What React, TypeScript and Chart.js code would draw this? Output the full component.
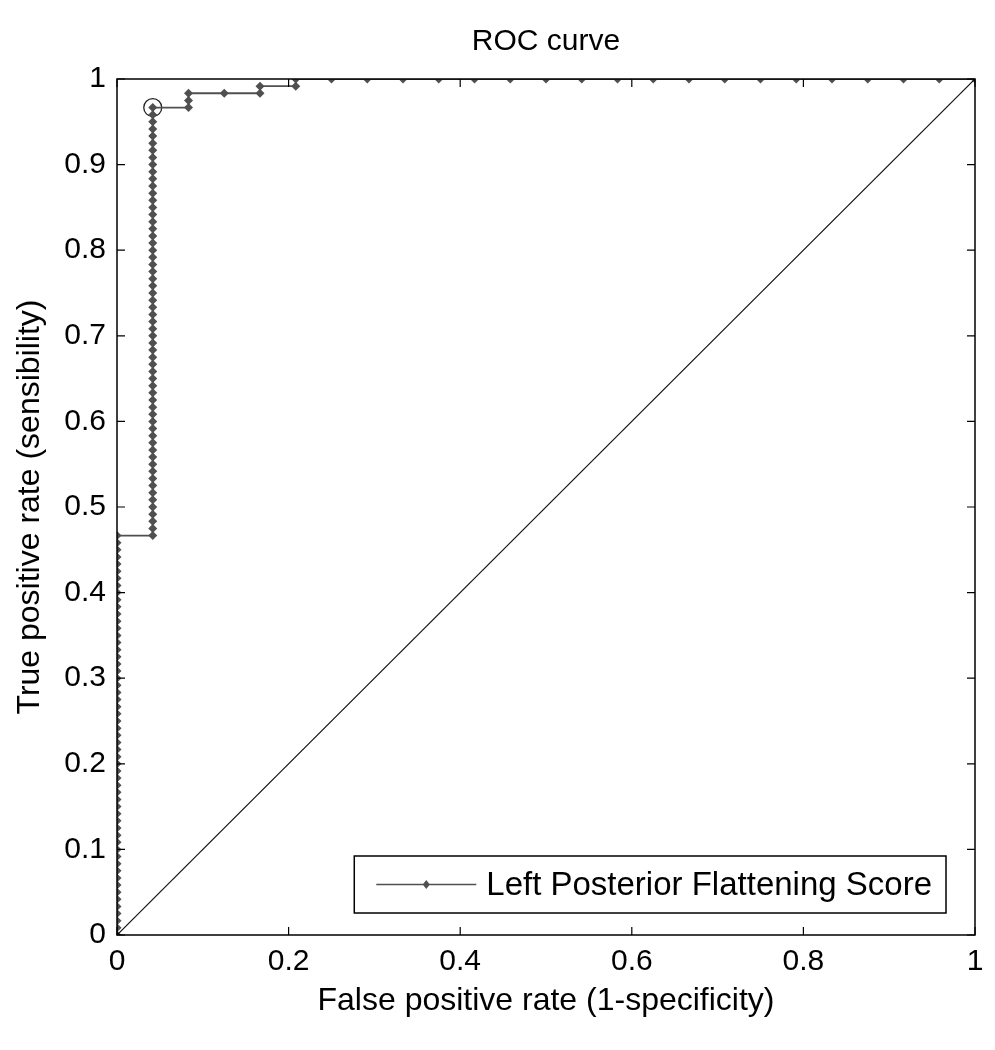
import React, { useEffect, useRef } from 'react';
import { Chart, registerables } from 'chart.js';

Chart.register(...registerables);

const titleText = 'ROC curve';
const xAxisTitle = 'False positive rate (1-specificity)';
const yAxisTitle = 'True positive rate (sensibility)';
const legendLabel = 'Left Posterior Flattening Score';

// ROC operating points, expressed as counts of false / true positives
const totalPositives = 120;
const totalNegatives = 24;

const falsePositiveCounts = [
  0, 0, 0, 0, 0, 0, 0, 0, 0, 0, 0, 0, 0, 0, 0, 0, 0, 0, 0, 0,
  0, 0, 0, 0, 0, 0, 0, 0, 0, 0, 0, 0, 0, 0, 0, 0, 0, 0, 0, 0,
  0, 0, 0, 0, 0, 0, 0, 0, 0, 0, 0, 0, 0, 0, 0, 0, 0,
  1, 1, 1, 1, 1, 1, 1, 1, 1, 1, 1, 1, 1, 1, 1, 1, 1, 1, 1, 1,
  1, 1, 1, 1, 1, 1, 1, 1, 1, 1, 1, 1, 1, 1, 1, 1, 1, 1, 1, 1,
  1, 1, 1, 1, 1, 1, 1, 1, 1, 1, 1, 1, 1, 1, 1, 1, 1, 1, 1, 1, 1,
  2, 2, 2,
  3,
  4, 4,
  5, 5,
  6, 7, 8, 9, 10, 11, 12, 13, 14, 15, 16, 17, 18, 19, 20, 21, 22, 23, 24,
];

const truePositiveCounts = [
  0, 1, 2, 3, 4, 5, 6, 7, 8, 9, 10, 11, 12, 13, 14, 15, 16, 17, 18, 19,
  20, 21, 22, 23, 24, 25, 26, 27, 28, 29, 30, 31, 32, 33, 34, 35, 36, 37, 38, 39,
  40, 41, 42, 43, 44, 45, 46, 47, 48, 49, 50, 51, 52, 53, 54, 55, 56,
  56, 57, 58, 59, 60, 61, 62, 63, 64, 65, 66, 67, 68, 69, 70, 71, 72, 73, 74, 75,
  76, 77, 78, 79, 80, 81, 82, 83, 84, 85, 86, 87, 88, 89, 90, 91, 92, 93, 94, 95,
  96, 97, 98, 99, 100, 101, 102, 103, 104, 105, 106, 107, 108, 109, 110, 111, 112, 113, 114, 115, 116,
  116, 117, 118,
  118,
  118, 119,
  119, 120,
  120, 120, 120, 120, 120, 120, 120, 120, 120, 120, 120, 120, 120, 120, 120, 120, 120, 120, 120,
];

// optimal operating point (circled)
const optimalFalsePositives = [1];
const optimalTruePositives = [116];

// chance diagonal
const chanceX = [0, 1];
const chanceY = [0, 1];

const xTickValues = [0, 0.2, 0.4, 0.6, 0.8, 1];
const yTickValues = [0, 0.1, 0.2, 0.3, 0.4, 0.5, 0.6, 0.7, 0.8, 0.9, 1];

const FONT = '"Liberation Sans", Arial, Helvetica, sans-serif';
const CURVE_COLOR = '#505050';
const TICK_SIZE = 30;
const LABEL_SIZE = 32;
const LEGEND_SIZE = 33;
const TITLE_SIZE = 30;

const boxPlugin = {
  id: 'matlabBox',
  afterDatasetsDraw(chart: any) {
    const { ctx, chartArea } = chart;
    const { left, right, top, bottom } = chartArea;
    const xs = chart.scales.x;
    const ys = chart.scales.y;
    const tick = 8;
    ctx.save();
    ctx.strokeStyle = '#000';
    ctx.lineWidth = 1.5;
    ctx.strokeRect(left, top, right - left, bottom - top);
    ctx.lineWidth = 1.2;
    ctx.beginPath();
    xTickValues.forEach((v) => {
      const px = xs.getPixelForValue(v);
      ctx.moveTo(px, bottom);
      ctx.lineTo(px, bottom - tick);
      ctx.moveTo(px, top);
      ctx.lineTo(px, top + tick);
    });
    yTickValues.forEach((v) => {
      const py = ys.getPixelForValue(v);
      ctx.moveTo(left, py);
      ctx.lineTo(left + tick, py);
      ctx.moveTo(right, py);
      ctx.lineTo(right - tick, py);
    });
    ctx.stroke();
    ctx.restore();
  },
  afterDraw(chart: any) {
    const { ctx, chartArea } = chart;
    ctx.save();
    ctx.font = `${LEGEND_SIZE}px ${FONT}`;
    const textW = ctx.measureText(legendLabel).width;
    const padL = 22;
    const sampleLen = 100;
    const gap = 10;
    const padR = 14;
    const boxH = 57;
    const boxRight = chartArea.right - 29;
    const boxBottom = chartArea.bottom - 22;
    const boxW = padL + sampleLen + gap + textW + padR;
    const boxLeft = boxRight - boxW;
    const boxTop = boxBottom - boxH;
    ctx.fillStyle = '#fff';
    ctx.fillRect(boxLeft, boxTop, boxW, boxH);
    ctx.strokeStyle = '#000';
    ctx.lineWidth = 1.5;
    ctx.strokeRect(boxLeft, boxTop, boxW, boxH);
    const cy = boxTop + boxH / 2;
    ctx.strokeStyle = CURVE_COLOR;
    ctx.lineWidth = 1.5;
    ctx.beginPath();
    ctx.moveTo(boxLeft + padL, cy);
    ctx.lineTo(boxLeft + padL + sampleLen, cy);
    ctx.stroke();
    const mx = boxLeft + padL + sampleLen / 2;
    ctx.fillStyle = CURVE_COLOR;
    ctx.beginPath();
    ctx.moveTo(mx, cy - 4.5);
    ctx.lineTo(mx + 3.5, cy);
    ctx.lineTo(mx, cy + 4.5);
    ctx.lineTo(mx - 3.5, cy);
    ctx.closePath();
    ctx.fill();
    ctx.fillStyle = '#000';
    ctx.textBaseline = 'middle';
    ctx.textAlign = 'left';
    ctx.fillText(legendLabel, boxLeft + padL + sampleLen + gap, cy + 1);
    ctx.restore();
  },
};

export default function App() {
  const canvasRef = useRef<HTMLCanvasElement | null>(null);

  useEffect(() => {
    document.body.style.overflow = 'hidden';
    const canvas = canvasRef.current;
    if (!canvas) return;

    const curve = falsePositiveCounts.map((fp, i) => ({
      x: fp / totalNegatives,
      y: truePositiveCounts[i] / totalPositives,
    }));
    const optimal = optimalFalsePositives.map((fp, i) => ({
      x: fp / totalNegatives,
      y: optimalTruePositives[i] / totalPositives,
    }));
    const chance = chanceX.map((x, i) => ({ x, y: chanceY[i] }));

    const chart = new Chart(canvas, {
      type: 'scatter',
      data: {
        datasets: [
          {
            label: 'chance',
            data: chance,
            showLine: true,
            borderColor: '#111',
            borderWidth: 1.2,
            pointRadius: 0,
          },
          {
            label: legendLabel,
            data: curve,
            showLine: true,
            borderColor: CURVE_COLOR,
            borderWidth: 1.8,
            pointStyle: 'rectRot',
            pointRadius: 4.5,
            pointBackgroundColor: CURVE_COLOR,
            pointBorderColor: CURVE_COLOR,
            pointBorderWidth: 0,
          },
          {
            label: 'optimal',
            data: optimal,
            showLine: false,
            pointStyle: 'circle',
            pointRadius: 9,
            pointBackgroundColor: 'rgba(0,0,0,0)',
            pointBorderColor: '#222',
            pointBorderWidth: 1.3,
          },
        ],
      },
      options: {
        responsive: false,
        animation: false,
        layout: { padding: { left: 0, top: 0, right: 20, bottom: 0 } },
        plugins: {
          legend: { display: false },
          tooltip: { enabled: false },
          title: {
            display: true,
            fullSize: false,
            text: titleText,
            color: '#000',
            font: { family: FONT, size: TITLE_SIZE, weight: 'normal' },
            padding: { top: 24, bottom: 19 },
          },
        },
        scales: {
          x: {
            type: 'linear',
            min: 0,
            max: 1,
            afterFit: (s: any) => {
              s.height = 115;
            },
            afterBuildTicks: (s: any) => {
              s.ticks = xTickValues.map((v) => ({ value: v }));
            },
            grid: { display: false, drawTicks: false },
            border: { display: false },
            ticks: {
              color: '#000',
              padding: 9,
              maxRotation: 0,
              font: { family: FONT, size: TICK_SIZE },
              callback: (v: any) => String(v),
            },
            title: {
              display: true,
              text: xAxisTitle,
              color: '#000',
              font: { family: FONT, size: LABEL_SIZE },
              padding: { top: 0, bottom: 30 },
            },
          },
          y: {
            type: 'linear',
            min: 0,
            max: 1,
            afterFit: (s: any) => {
              s.width = 117;
            },
            afterBuildTicks: (s: any) => {
              s.ticks = yTickValues.map((v) => ({ value: v }));
            },
            grid: { display: false, drawTicks: false },
            border: { display: false },
            ticks: {
              color: '#000',
              padding: 11,
              font: { family: FONT, size: TICK_SIZE },
              callback: (v: any) => String(v),
            },
            title: {
              display: true,
              text: yAxisTitle,
              color: '#000',
              font: { family: FONT, size: LABEL_SIZE },
              padding: { top: 11, bottom: 0 },
            },
          },
        },
      },
      plugins: [boxPlugin],
    });

    return () => {
      chart.destroy();
    };
  }, []);

  return (
    <div style={{ position: 'absolute', left: 0, top: 0, width: 995, height: 1050, background: '#fff' }}>
      <canvas ref={canvasRef} width={995} height={1050} style={{ display: 'block' }} />
    </div>
  );
}
